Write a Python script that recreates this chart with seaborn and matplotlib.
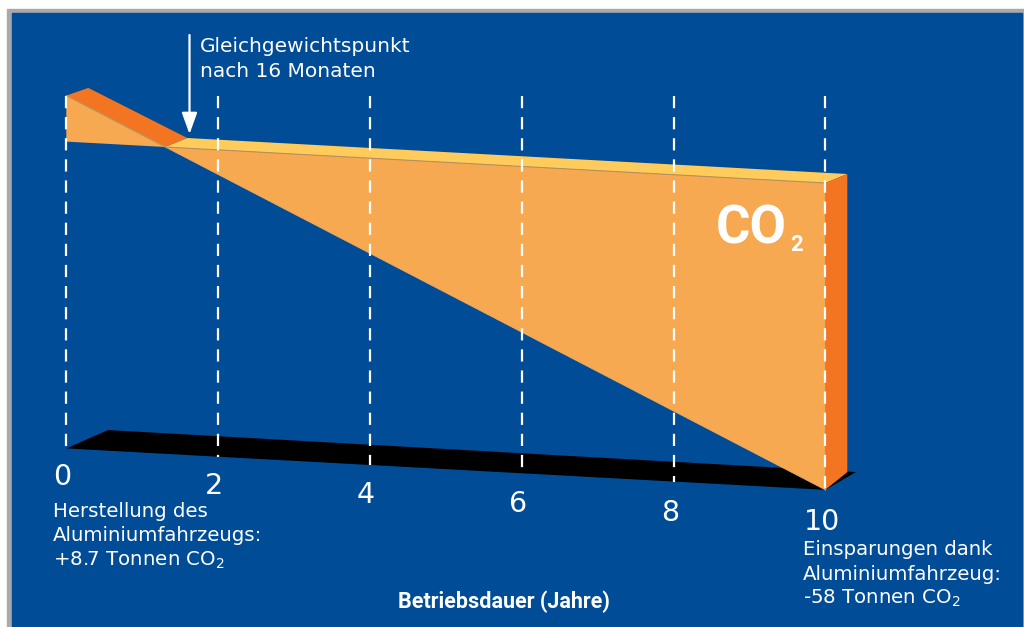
import numpy as np
import pandas as pd
import matplotlib
matplotlib.use("Agg")
import matplotlib.pyplot as plt
import seaborn as sns
from matplotlib.transforms import Affine2D
from matplotlib.patches import Polygon, Rectangle

# ---------------- data ----------------
tick_years = [0, 2, 4, 6, 8, 10]
tick_labels = ["0", "2", "4", "6", "8", "10"]
balance_years = [0, 10]          # Betriebsdauer (Jahre)
balance_values = [8.7, -58]      # kumulierte CO2-Bilanz (Tonnen)
breakeven_months = 16
left_label = ["Herstellung des", "Aluminiumfahrzeugs:", "+8.7 Tonnen CO$_2$"]
right_label = ["Einsparungen dank", "Aluminiumfahrzeug:", "-58 Tonnen CO$_2$"]
xlabel = "Betriebsdauer (Jahre)"
note = ["Gleichgewichtspunkt", f"nach {breakeven_months} Monaten"]

# ---------------- style ----------------
BLUE = "#004C97"
GREY = "#A9A9AB"
LIGHT = "#F7A951"
DARK = "#F37421"
YELLOW = "#FFCC5C"
EDGE = "#B8915A"
BOLDFAM = ["Roboto", "DejaVu Sans"]

sns.set_theme(style="white")
plt.rcParams["font.family"] = ["DejaVu Sans"]
plt.rcParams["mathtext.fontset"] = "dejavusans"

fig = plt.figure(figsize=(10.24, 6.27), dpi=100)
ax = fig.add_axes([0, 0, 1, 1])

# pseudo-3D projection: (year, value) -> pixel
front = Affine2D(np.array([[75.9, 0.0, 66.3], [4.14, -5.29, 141.6], [0, 0, 1]]))
back = Affine2D(np.array([[75.9, 0.0, 88.3], [4.14, -5.14, 132.6], [0, 0, 1]]))
floor_back = Affine2D(np.array([[74.8, 0.0, 108.0], [4.2, -5.29, 123.2], [0, 0, 1]]))
ticks_tr = Affine2D(np.array([[76.0, 0.0, 62.0], [4.5, 0.0, 485.0], [0, 0, 1]]))

# frame
ax.add_patch(Rectangle((7, 9), 1030, 640, color=GREY, zorder=0))
ax.add_patch(Rectangle((12, 13), 1010, 640, color=BLUE, zorder=0.5))

y0, y1 = balance_values
t0, t1 = balance_years
t_cross = float(np.interp(0, [y1, y0], [t1, t0]))  # zero crossing of balance line
vmin = y1

def P(tr, t, v):
    return tr.transform((t, v))

# floor
floor = [P(front, t0, vmin), P(front, t1, vmin), P(floor_back, t1, vmin), P(floor_back, t0, vmin)]
ax.add_patch(Polygon(floor, closed=True, color="black", zorder=2, lw=0))

# positive wedge: front & top
ax.add_patch(Polygon([P(front, t0, y0), P(front, t0, 0), P(front, t_cross, 0)],
                     color=LIGHT, lw=0, zorder=3))
ax.add_patch(Polygon([P(front, t0, y0), P(front, t_cross, 0), P(back, t_cross, 0), P(back, t0, y0)],
                     color=DARK, lw=0, zorder=3))
# negative wedge: front, top, right side
ax.add_patch(Polygon([P(front, t_cross, 0), P(front, t1, 0), P(front, t1, y1)],
                     color=LIGHT, lw=0, zorder=3))
ax.add_patch(Polygon([P(front, t_cross, 0), P(front, t1, 0), P(back, t1, 0), P(back, t_cross, 0)],
                     color=YELLOW, lw=0, zorder=3))
ax.add_patch(Polygon([P(front, t1, 0), P(back, t1, 0), P(back, t1, y1), P(front, t1, y1)],
                     color=DARK, lw=0, zorder=3))

# subtle edges
for a, b in [((t0, y0), (t_cross, 0)), ((t_cross, 0), (t1, 0)), ((t1, 0), (t1, y1))]:
    pa, pb = P(front, *a), P(front, *b)
    ax.plot([pa[0], pb[0]], [pa[1], pb[1]], color=EDGE, lw=0.8, zorder=3.5)

# cumulative balance line (front diagonal)
sns.lineplot(x=balance_years, y=balance_values, ax=ax, color=LIGHT, lw=0.6,
             transform=front + ax.transData, zorder=3.2)

# dashed year lines
for t in tick_years:
    xb, yb = P(front, t, vmin)
    ax.plot([xb, xb], [96, yb], color="white", lw=1.6, dashes=(5.5, 4), zorder=5)

# tick labels
for t, lab in zip(tick_years, tick_labels):
    x, y = P(ticks_tr, t, 0)
    ax.text(x, y, lab, color="white", fontsize=20.5, ha="center", va="baseline", zorder=6)

# side labels
for i, line in enumerate(left_label):
    ax.text(53, 517 + 24.2 * i, line, color="white", fontsize=14.2, ha="left", va="baseline", zorder=6)
for i, line in enumerate(right_label):
    ax.text(803, 555 + 24.5 * i, line, color="white", fontsize=14.2, ha="left", va="baseline", zorder=6)

# axis title
ax.text(504, 608, xlabel, color="white", fontsize=15.5, fontweight="bold",
        family=BOLDFAM, ha="center", va="baseline", zorder=6)

# big CO2
ax.text(787, 243, "CO", color="white", fontsize=38, fontweight="bold",
        family=BOLDFAM, ha="right", va="baseline", zorder=6)
ax.text(790, 251, "2", color="white", fontsize=16, fontweight="bold",
        family=BOLDFAM, ha="left", va="baseline", zorder=6)

# breakeven annotation
bx, by = P(back, breakeven_months / 12, 0)
ax.annotate("", xy=(bx, by - 4), xytext=(bx, 35), xycoords="data", textcoords="data",
            arrowprops=dict(arrowstyle="-|>,head_length=1.0,head_width=0.36", color="white",
                            lw=1.6, mutation_scale=13, shrinkA=0, shrinkB=0), zorder=6)
for i, line in enumerate(note):
    ax.text(200, 52 + 25 * i, line, color="white", fontsize=14.5, ha="left", va="baseline", zorder=6)

ax.set_xlim(0, 1024)
ax.set_ylim(627, 0)
ax.axis("off")
fig.savefig("out.png", dpi=100, facecolor="white")
